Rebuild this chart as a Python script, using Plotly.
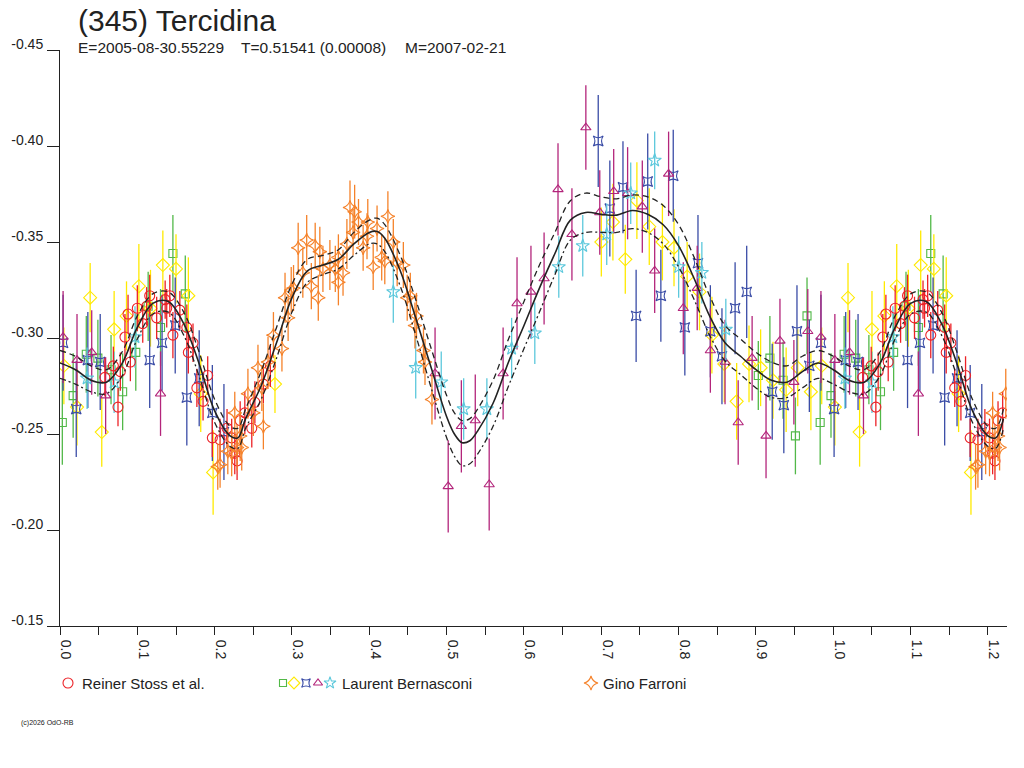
import plotly.graph_objects as go

# ---------------- text ----------------
TITLE = "(345) Tercidina"
SUB_E = "E=2005-08-30.55229"
SUB_T = "T=0.51541 (0.00008)"
SUB_M = "M=2007-02-21"
COPYRIGHT = "(c)2026 OdO-RB"
NAME_STOSS = "Reiner Stoss et al."
NAME_BERN = "Laurent Bernasconi"
NAME_FARR = "Gino Farroni"

X_TICKS = [0.0, 0.1, 0.2, 0.3, 0.4, 0.5, 0.6, 0.7, 0.8, 0.9, 1.0, 1.1, 1.2]
Y_TICKS = [-0.45, -0.40, -0.35, -0.30, -0.25, -0.20, -0.15]

# repeated part of the phase diagram (points re-plotted one cycle later)
REPEAT_SHIFT = 0.98
REPEAT_MAX = 0.2446

# ---------------- data ----------------
# Reiner Stoss et al. (red circles)
STOSS_PH = [0.058, 0.069, 0.075, 0.078, 0.084, 0.088, 0.091, 0.100, 0.107, 0.112, 0.116, 0.125,
            0.136, 0.138, 0.142, 0.146, 0.155, 0.164, 0.166, 0.172, 0.177, 0.185, 0.191, 0.197,
            0.207, 0.216, 0.222, 0.226, 0.229, 0.233, 0.239, 0.248, 0.252, 0.263, 0.272]
STOSS_MAG = [-0.2795, -0.2855, -0.264, -0.2825, -0.3005, -0.3125, -0.2875, -0.3155, -0.3075, -0.3165, -0.322, -0.3105,
             -0.320, -0.3155, -0.322, -0.3015, -0.3145, -0.3055, -0.2925, -0.2975, -0.274, -0.267, -0.2805, -0.248,
             -0.247, -0.253, -0.248, -0.240, -0.236, -0.257, -0.261, -0.253, -0.2665, -0.276, -0.2855]
STOSS_ERR = [0.010, 0.010, 0.010, 0.010, 0.012, 0.010, 0.010, 0.012, 0.010, 0.010, 0.011, 0.011,
             0.010, 0.010, 0.011, 0.012, 0.010, 0.012, 0.011, 0.010, 0.010, 0.010, 0.010, 0.010,
             0.011, 0.010, 0.010, 0.011, 0.010, 0.010, 0.011, 0.010, 0.011, 0.010, 0.011]

# Gino Farroni (orange 4-point stars)
FARR_PH = [0.204, 0.207, 0.217, 0.222, 0.226, 0.229, 0.233, 0.235, 0.243, 0.250, 0.256, 0.261,
           0.263, 0.269, 0.276, 0.287, 0.291, 0.295, 0.299, 0.302, 0.308, 0.314, 0.319, 0.325,
           0.330, 0.334, 0.336, 0.340, 0.349, 0.356, 0.360, 0.360, 0.366, 0.371, 0.375, 0.379,
           0.381, 0.386, 0.392, 0.397, 0.398, 0.405, 0.410, 0.416, 0.420, 0.424, 0.431, 0.436,
           0.444, 0.449, 0.453, 0.459, 0.461, 0.470, 0.472, 0.481]
FARR_MAG = [-0.233, -0.234, -0.241, -0.240, -0.261, -0.243, -0.249, -0.243, -0.271, -0.261, -0.2845, -0.274,
            -0.254, -0.2875, -0.3015, -0.2945, -0.321, -0.3105, -0.325, -0.326, -0.347, -0.334, -0.351, -0.327,
            -0.348, -0.321, -0.345, -0.336, -0.338, -0.336, -0.342, -0.329, -0.334, -0.349, -0.368, -0.355,
            -0.3658, -0.3604, -0.347, -0.353, -0.3604, -0.337, -0.357, -0.342, -0.340, -0.3634, -0.350, -0.339,
            -0.338, -0.321, -0.322, -0.3065, -0.3115, -0.2935, -0.2875, -0.268]
FARR_ERR = [0.012, 0.012, 0.012, 0.012, 0.011, 0.012, 0.013, 0.012, 0.013, 0.012, 0.012, 0.012,
            0.012, 0.013, 0.012, 0.012, 0.013, 0.012, 0.012, 0.012, 0.013, 0.013, 0.013, 0.012,
            0.012, 0.012, 0.013, 0.012, 0.013, 0.012, 0.012, 0.012, 0.012, 0.013, 0.014, 0.012,
            0.014, 0.012, 0.012, 0.012, 0.012, 0.012, 0.012, 0.012, 0.012, 0.013, 0.012, 0.012,
            0.012, 0.012, 0.012, 0.012, 0.012, 0.012, 0.012, 0.013]

# Laurent Bernasconi, five sessions
BERN_G_PH = [0.003, 0.017, 0.034, 0.049, 0.066, 0.081, 0.098, 0.114, 0.130, 0.146, 0.162,
             0.903, 0.918, 0.935, 0.951, 0.966]
BERN_G_MAG = [-0.256, -0.270, -0.2915, -0.2895, -0.2835, -0.272, -0.2925, -0.3165, -0.3055, -0.344, -0.323,
              -0.2805, -0.2895, -0.278, -0.249, -0.3115]
BERN_G_ERR = [0.022, 0.022, 0.020, 0.020, 0.018, 0.020, 0.020, 0.018, 0.020, 0.020, 0.020,
              0.018, 0.022, 0.020, 0.020, 0.020]

BERN_Y_PH = [0.005, 0.022, 0.039, 0.054, 0.070, 0.086, 0.102, 0.117, 0.133, 0.150, 0.166, 0.182, 0.198,
             0.278, 0.700, 0.715, 0.731, 0.746, 0.762, 0.779, 0.794, 0.811, 0.827, 0.843, 0.859,
             0.875, 0.891, 0.906, 0.922, 0.939, 0.954, 0.971]
BERN_Y_MAG = [-0.2855, -0.264, -0.321, -0.251, -0.3045, -0.3115, -0.327, -0.3155, -0.338, -0.336, -0.322, -0.271, -0.230,
              -0.276, -0.350, -0.3604, -0.341, -0.3715, -0.358, -0.350, -0.347, -0.332, -0.324, -0.3015, -0.2865,
              -0.267, -0.2865, -0.2845, -0.278, -0.273, -0.2845, -0.272]
BERN_Y_ERR = [0.020, 0.020, 0.018, 0.018, 0.020, 0.018, 0.022, 0.020, 0.018, 0.018, 0.020, 0.020, 0.022,
              0.015, 0.018, 0.020, 0.018, 0.020, 0.020, 0.020, 0.020, 0.018, 0.020, 0.020, 0.020,
              0.020, 0.020, 0.020, 0.020, 0.022, 0.020, 0.020]

BERN_B_PH = [0.004, 0.021, 0.036, 0.052, 0.116, 0.132, 0.149, 0.164, 0.180, 0.197, 0.212,
             0.696, 0.711, 0.728, 0.745, 0.760, 0.777, 0.793, 0.808, 0.825, 0.841, 0.856, 0.873,
             0.888, 0.921, 0.936, 0.953, 0.969]
BERN_B_MAG = [-0.2975, -0.263, -0.2885, -0.2875, -0.2885, -0.2975, -0.3065, -0.269, -0.279, -0.261, -0.251,
              -0.4026, -0.3674, -0.3785, -0.3115, -0.3815, -0.322, -0.3845, -0.3055, -0.339, -0.3035, -0.2905, -0.3155,
              -0.324, -0.272, -0.265, -0.3035, -0.2855]
BERN_B_ERR = [0.025, 0.025, 0.025, 0.025, 0.025, 0.025, 0.025, 0.025, 0.025, 0.025, 0.025,
              0.024, 0.025, 0.024, 0.024, 0.025, 0.024, 0.024, 0.025, 0.025, 0.024, 0.025, 0.024,
              0.024, 0.025, 0.025, 0.024, 0.024]

BERN_M_PH = [0.004, 0.022, 0.041, 0.059, 0.130, 0.485, 0.502, 0.519, 0.537, 0.555, 0.573, 0.591,
             0.609, 0.626, 0.644, 0.662, 0.680, 0.698, 0.716, 0.734, 0.753, 0.769, 0.787, 0.806,
             0.824, 0.841, 0.860, 0.877, 0.895, 0.913, 0.931, 0.949, 0.967]
BERN_M_MAG = [-0.3005, -0.2885, -0.2925, -0.270, -0.271, -0.2815, -0.2227, -0.254, -0.257, -0.2237, -0.2815, -0.318,
              -0.324, -0.331, -0.3774, -0.354, -0.4096, -0.3654, -0.3764, -0.3754, -0.3684, -0.335, -0.3855, -0.3155,
              -0.326, -0.2935, -0.2875, -0.256, -0.2895, -0.249, -0.2985, -0.277, -0.3035]
BERN_M_ERR = [0.024, 0.024, 0.022, 0.020, 0.022, 0.024, 0.024, 0.024, 0.024, 0.024, 0.024, 0.024,
              0.024, 0.024, 0.024, 0.024, 0.022, 0.022, 0.022, 0.024, 0.024, 0.022, 0.022, 0.024,
              0.022, 0.022, 0.022, 0.022, 0.022, 0.022, 0.022, 0.022, 0.022]

BERN_C_PH = [0.035, 0.070, 0.097, 0.431, 0.460, 0.493, 0.522, 0.552, 0.584, 0.614, 0.645, 0.676,
             0.707, 0.738, 0.769, 0.800, 0.830, 0.861]
BERN_C_MAG = [-0.279, -0.277, -0.3005, -0.324, -0.2845, -0.277, -0.263, -0.263, -0.2945, -0.3025, -0.337, -0.348,
              -0.354, -0.3754, -0.3925, -0.337, -0.334, -0.3045]
BERN_C_ERR = [0.016, 0.016, 0.016, 0.016, 0.016, 0.016, 0.016, 0.016, 0.016, 0.016, 0.016, 0.016,
              0.016, 0.016, 0.015, 0.016, 0.016, 0.016]

# fitted curve (solid) and its two envelope lines
CURVE_PH = [0.00, 0.02, 0.04, 0.06, 0.08, 0.10, 0.12, 0.14, 0.16, 0.18, 0.20, 0.22, 0.23, 0.24,
            0.26, 0.28, 0.30, 0.32, 0.34, 0.36, 0.38, 0.40, 0.41, 0.42, 0.44, 0.46, 0.48, 0.50,
            0.51, 0.52, 0.53, 0.54, 0.56, 0.58, 0.60, 0.62, 0.64, 0.66, 0.68, 0.70, 0.72, 0.74,
            0.76, 0.78, 0.80, 0.82, 0.84, 0.86, 0.88, 0.90, 0.92, 0.94, 0.96, 0.98]
CURVE_MID = [-0.287, -0.2835, -0.278, -0.277, -0.2865, -0.3055, -0.318, -0.319, -0.3075, -0.2865, -0.262, -0.249, -0.248, -0.258,
             -0.275, -0.2975, -0.321, -0.335, -0.338, -0.341, -0.349, -0.355, -0.3555, -0.352, -0.335, -0.3105, -0.2845, -0.259,
             -0.250, -0.2455, -0.2465, -0.2515, -0.266, -0.2875, -0.3065, -0.326, -0.344, -0.3614, -0.3654, -0.3644, -0.364, -0.3664,
             -0.3644, -0.359, -0.348, -0.331, -0.3115, -0.2975, -0.2905, -0.2835, -0.278, -0.277, -0.2825, -0.287]
CURVE_UP = [-0.2935, -0.2905, -0.2855, -0.2835, -0.2925, -0.3115, -0.323, -0.324, -0.3135, -0.2925, -0.268, -0.254, -0.253, -0.263,
            -0.2825, -0.3055, -0.328, -0.341, -0.343, -0.346, -0.355, -0.3614, -0.3624, -0.359, -0.343, -0.320, -0.2945, -0.270,
            -0.261, -0.257, -0.258, -0.263, -0.278, -0.2995, -0.319, -0.338, -0.355, -0.3715, -0.3755, -0.3735, -0.3725, -0.3745,
            -0.3735, -0.369, -0.359, -0.342, -0.322, -0.3065, -0.2995, -0.2925, -0.2875, -0.2855, -0.2905, -0.2935]
CURVE_LO = [-0.279, -0.276, -0.272, -0.271, -0.280, -0.2995, -0.3125, -0.3135, -0.3015, -0.280, -0.256, -0.2435, -0.2425, -0.253,
            -0.268, -0.2895, -0.3135, -0.329, -0.333, -0.336, -0.343, -0.349, -0.349, -0.345, -0.327, -0.3015, -0.274, -0.248,
            -0.2385, -0.2335, -0.2345, -0.2395, -0.254, -0.275, -0.2945, -0.3135, -0.333, -0.351, -0.355, -0.355, -0.355, -0.357,
            -0.355, -0.349, -0.337, -0.320, -0.3015, -0.288, -0.281, -0.274, -0.269, -0.269, -0.274, -0.279]

# ---------------- styling ----------------
FONT = "Liberation Sans, Arial, sans-serif"
INK = "#222222"
C_RED = "#ec2227"
C_ORANGE = "#f5822a"
C_GREEN = "#52b848"
C_YELLOW = "#ffea00"
C_BLUE = "#3a4ca6"
C_MAGENTA = "#b3257b"
C_CYAN = "#5cc8dc"

# page-pixel frame: plot box (left, right, top, bottom) and the bottom of the paper area
W, H = 1024, 768
PL, PR, PT, PB = 60, 1007, 50, 626
PAPER_BOTTOM = 708


def px2paper(px, py):
    return (px - PL) / (PR - PL), (PAPER_BOTTOM - py) / (PAPER_BOTTOM - PT)


def fold(ph, mag, err=None):
    """Add the repeated copy of the first part of the cycle."""
    xs, ys = list(ph), list(mag)
    es = list(err) if err is not None else None
    for i, p in enumerate(ph):
        if 0 < p <= REPEAT_MAX:
            xs.append(p + REPEAT_SHIFT)
            ys.append(mag[i])
            if es is not None:
                es.append(err[i])
    return xs, ys, es


fig = go.Figure()

series = [
    (BERN_G_PH, BERN_G_MAG, BERN_G_ERR, C_GREEN, "square-open", 8),
    (BERN_Y_PH, BERN_Y_MAG, BERN_Y_ERR, C_YELLOW, "diamond-open", 10),
    (BERN_B_PH, BERN_B_MAG, BERN_B_ERR, C_BLUE, "star-square-open", 9),
    (BERN_M_PH, BERN_M_MAG, BERN_M_ERR, C_MAGENTA, "triangle-up-open", 9),
    (BERN_C_PH, BERN_C_MAG, BERN_C_ERR, C_CYAN, "star-open", 10),
    (STOSS_PH, STOSS_MAG, STOSS_ERR, C_RED, "circle-open", 10),
    (FARR_PH, FARR_MAG, FARR_ERR, C_ORANGE, "star-diamond-open", 10),
]
for ph, mag, err, col, sym, size in series:
    x, y, e = fold(ph, mag, err)
    fig.add_trace(go.Scatter(
        x=x, y=y, mode="markers", showlegend=False, hoverinfo="skip",
        marker=dict(symbol=sym, size=size, color=col, line=dict(color=col, width=1.1)),
        error_y=dict(type="data", array=e, color=col, thickness=1.3, width=0),
    ))

for vals, dash, width in [(CURVE_UP, "6px,4px", 1.3), (CURVE_LO, "6px,3px,2px,3px", 1.3), (CURVE_MID, "solid", 1.6)]:
    x, y, _ = fold(CURVE_PH, vals)
    order = sorted(range(len(x)), key=lambda i: x[i])
    fig.add_trace(go.Scatter(
        x=[x[i] for i in order], y=[y[i] for i in order], mode="lines", showlegend=False,
        hoverinfo="skip", line=dict(color=INK, width=width, dash=dash, shape="spline", smoothing=1.0),
    ))

# ---------------- custom legend (row under the axis, on a pixel-scaled helper subplot) ----------------
legend_keys = [
    (68, C_RED, "circle-open", 10),
    (283, C_GREEN, "square-open", 7),
    (294, C_YELLOW, "diamond-open", 9),
    (306, C_BLUE, "star-square-open", 8),
    (318, C_MAGENTA, "triangle-up-open", 8),
    (330, C_CYAN, "star-open", 9),
    (591, C_ORANGE, "star-diamond-open", 10),
]
LEG_Y = 683
for px, col, sym, size in legend_keys:
    fig.add_trace(go.Scatter(
        x=[px], y=[LEG_Y], xaxis="x2", yaxis="y2", mode="markers", showlegend=False,
        hoverinfo="skip",
        marker=dict(symbol=sym, size=size, color=col, line=dict(color=col, width=1.1)),
    ))

annotations = []


def add_text(px, py, text, size, anchor="left", yanchor="middle"):
    ax, ay = px2paper(px, py)
    annotations.append(dict(x=ax, y=ay, xref="paper", yref="paper", text=text, showarrow=False,
                            xanchor=anchor, yanchor=yanchor,
                            font=dict(family=FONT, size=size, color=INK)))


add_text(76, 20, TITLE, 30)
add_text(76, 47, SUB_E, 15.5)
add_text(239, 47, SUB_T, 15.5)
add_text(403, 47, SUB_M, 15.5)
add_text(80, LEG_Y, NAME_STOSS, 15)
add_text(340, LEG_Y, NAME_BERN, 15)
add_text(601, LEG_Y, NAME_FARR, 15)
add_text(19, 723, COPYRIGHT, 7)

y_dom_low = (PAPER_BOTTOM - PB) / (PAPER_BOTTOM - PT)

fig.update_layout(
    width=W, height=H,
    margin=dict(l=PL, r=W - PR, t=PT, b=H - PAPER_BOTTOM, pad=0),
    paper_bgcolor="white", plot_bgcolor="rgba(0,0,0,0)",
    font=dict(family=FONT, color=INK),
    showlegend=False,
    annotations=annotations,
    xaxis=dict(
        domain=[0, 1], anchor="y",
        range=[0, 1.2246], showgrid=False, zeroline=False,
        showline=True, linecolor=INK, linewidth=1,
        tickvals=X_TICKS, ticktext=[f"{v:.1f}" for v in X_TICKS],
        ticks="outside", ticklen=8, tickcolor=INK, tickwidth=1,
        tickangle=90, tickfont=dict(family=FONT, size=14, color=INK),
        ticklabelshift=6, ticklabelstandoff=2,
        minor=dict(dtick=0.05, tick0=0, ticks="outside", ticklen=8, tickcolor=INK, showgrid=False),
    ),
    yaxis=dict(
        domain=[y_dom_low, 1], anchor="x",
        range=[-0.15, -0.45], showgrid=False, zeroline=False,
        showline=True, linecolor=INK, linewidth=1,
        tickvals=Y_TICKS, ticktext=[f"{v:.2f}" for v in Y_TICKS],
        ticks="outside", ticklen=12, tickcolor=INK, tickwidth=1,
        tickfont=dict(family=FONT, size=14, color=INK),
        ticklabelshift=6, ticklabelstandoff=1,
    ),
    xaxis2=dict(domain=[0, 1], range=[PL, PR], visible=False, anchor="y2"),
    yaxis2=dict(domain=[0, 1], range=[PAPER_BOTTOM, PT], visible=False, anchor="x2"),
)

fig.write_html("out.html", config={"displayModeBar": False},
               post_script="document.body.style.margin='0';")
